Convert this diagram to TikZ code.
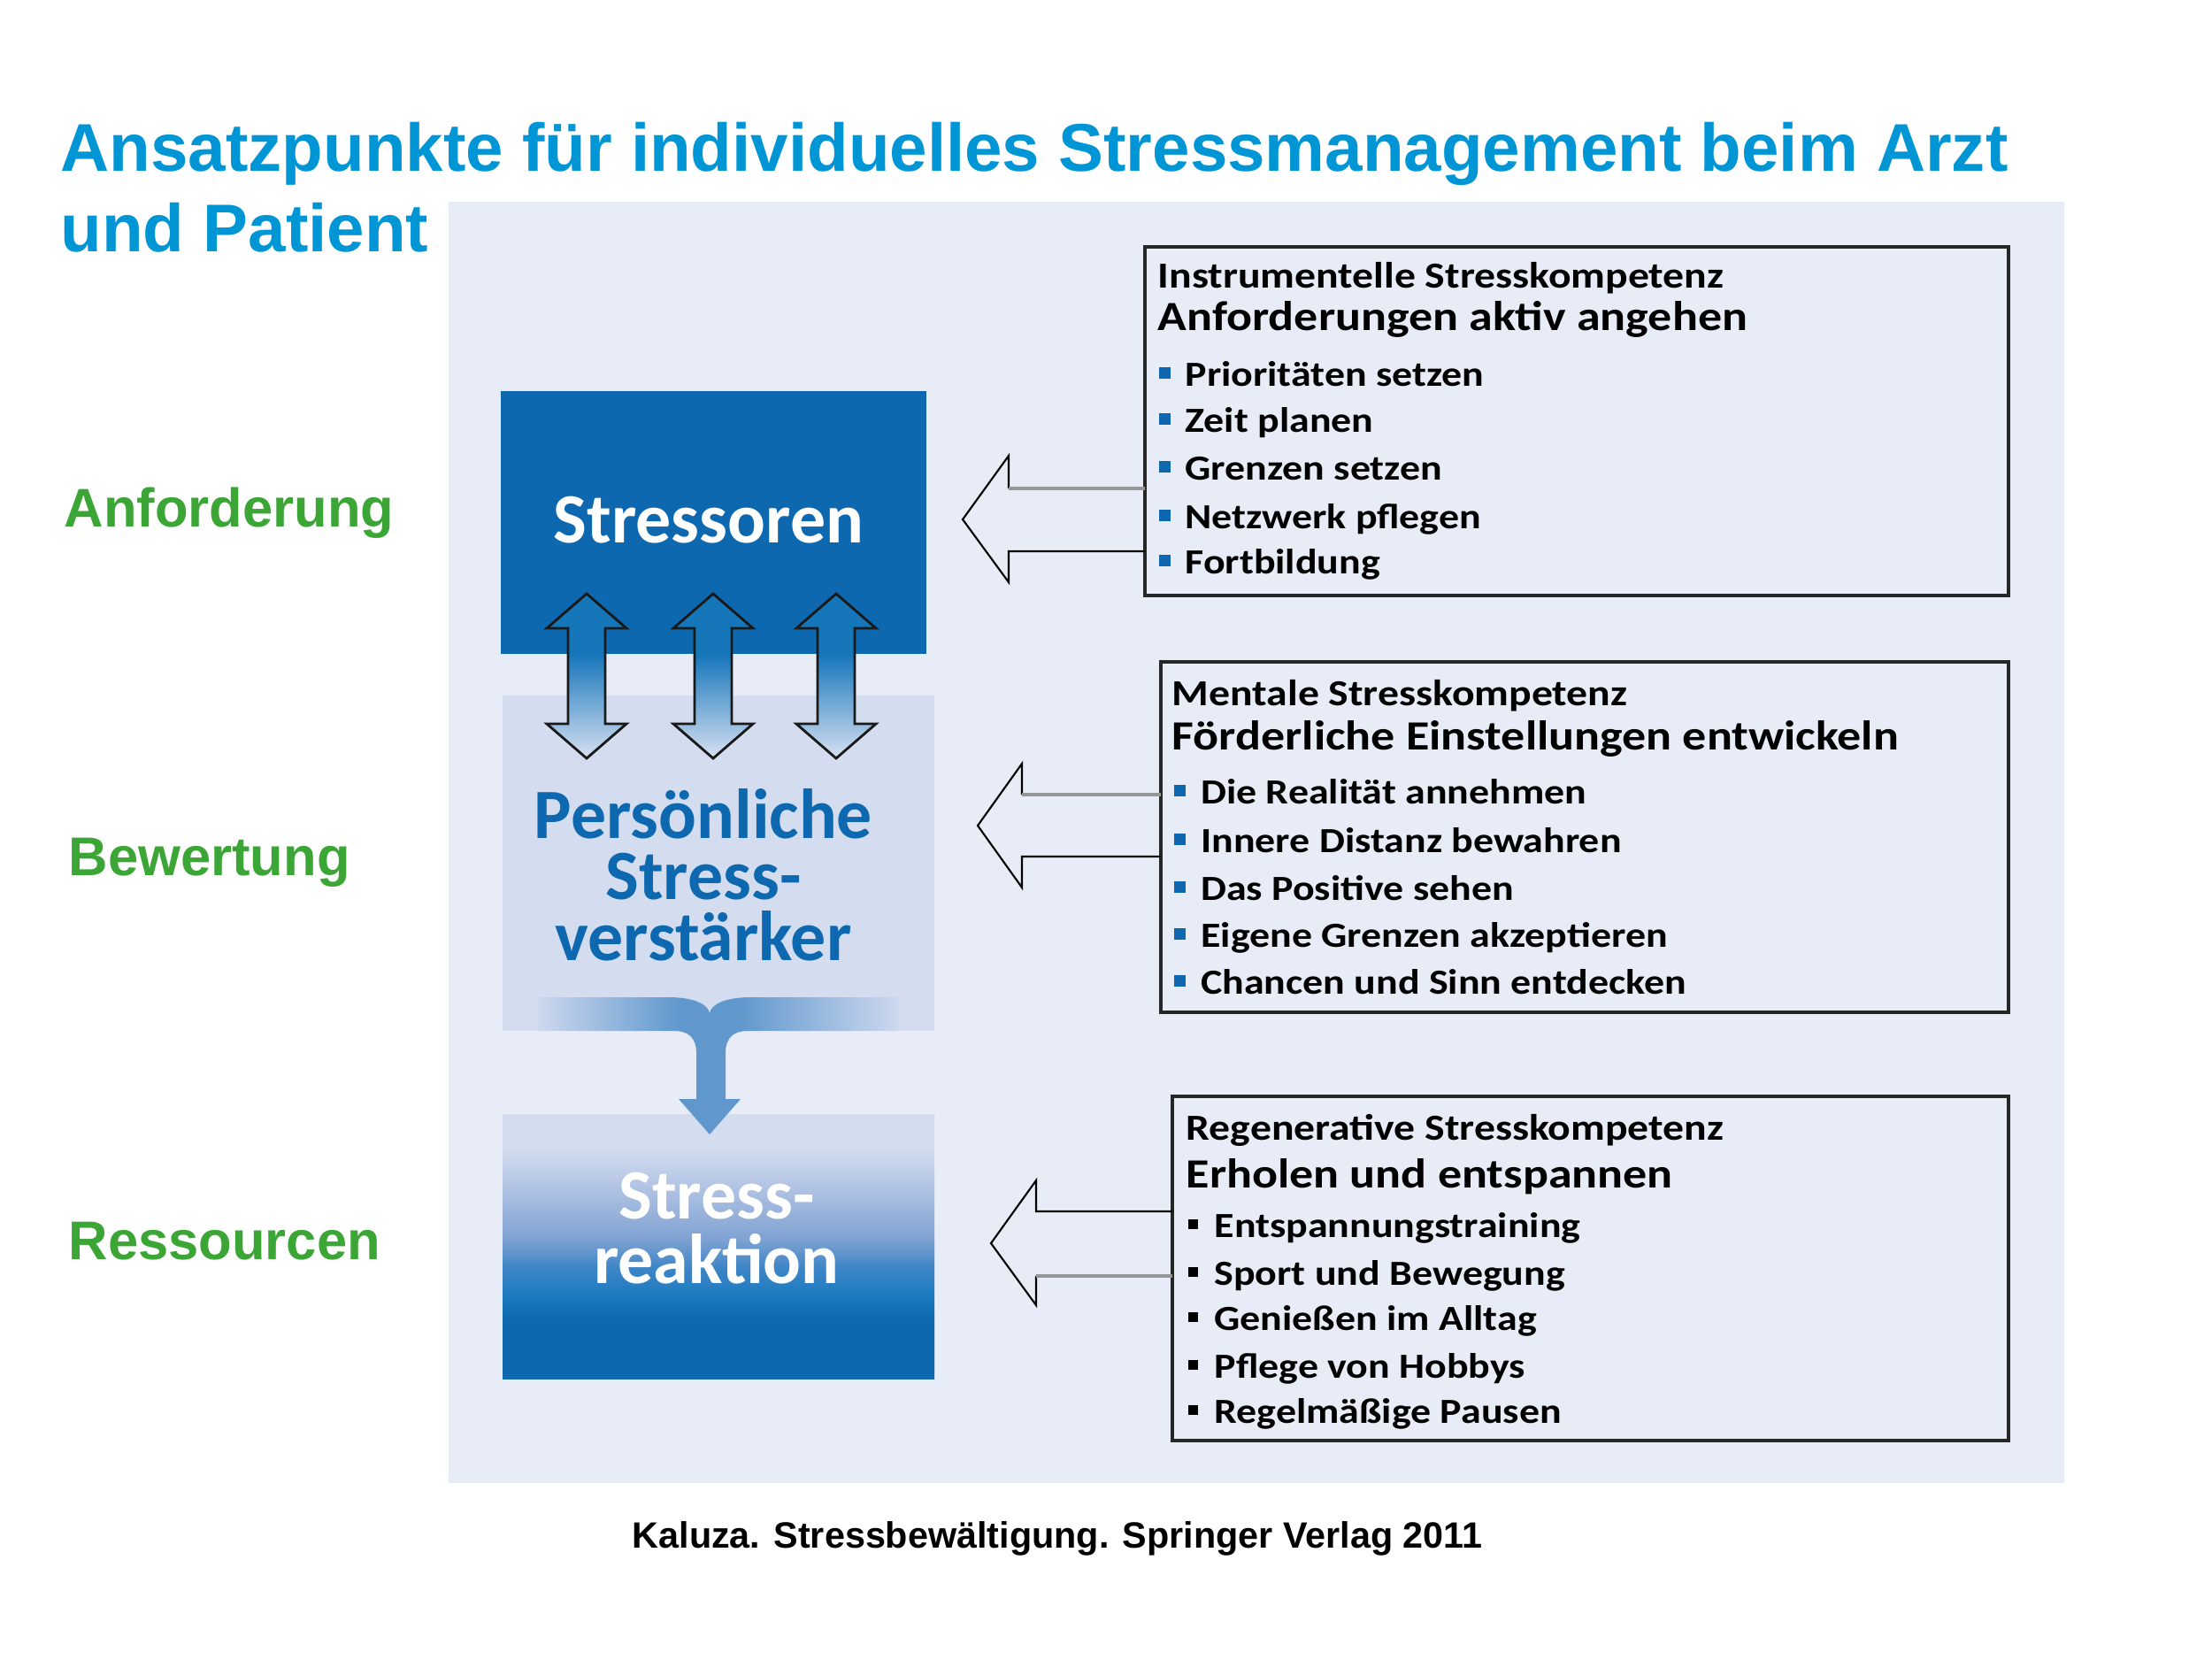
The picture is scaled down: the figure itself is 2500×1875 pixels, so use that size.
\documentclass[tikz,border=0pt]{standalone}
\usepackage{fontspec}
\setmainfont{Liberation Sans}
\newfontfamily\figfont{Carlito}
\newfontfamily\kfont[FakeStretch=1.15]{Carlito}

\definecolor{titleblue}{RGB}{0,150,214}
\definecolor{labelgreen}{RGB}{59,166,53}
\definecolor{panelbg}{RGB}{231,236,246}
\definecolor{darkblue}{RGB}{14,104,176}
\definecolor{lightbox}{RGB}{211,221,239}
\definecolor{arrowblue}{RGB}{22,118,186}
\definecolor{arrowlight}{RGB}{216,225,242}
\definecolor{mergeblue}{RGB}{96,152,205}
\definecolor{mergefade}{RGB}{205,216,238}
\definecolor{shaftgray}{RGB}{150,150,150}
\definecolor{rkone}{RGB}{26,122,191}
\definecolor{rktwo}{RGB}{61,133,198}
\definecolor{rkthree}{RGB}{127,162,210}
\definecolor{rkfour}{RGB}{184,200,230}

\pgfdeclareverticalshading{updown}{100bp}{color(0bp)=(arrowlight); color(25bp)=(arrowlight);
  color(56.5bp)=(arrowblue); color(100bp)=(arrowblue)}
\pgfdeclareverticalshading{reaktionshade}{100bp}{color(0bp)=(darkblue); color(36.4bp)=(darkblue);
  color(40.2bp)=(rkone); color(45.9bp)=(rktwo); color(51.4bp)=(rkthree); color(62.6bp)=(rkfour);
  color(68.6bp)=(lightbox); color(100bp)=(lightbox)}
\pgfdeclarehorizontalshading{mergeband}{100bp}{color(0bp)=(mergefade); color(25bp)=(mergefade);
  color(44.5bp)=(mergeblue); color(53bp)=(mergeblue); color(75bp)=(mergefade); color(100bp)=(mergefade)}

\newcommand{\kbul}[3]{\textcolor{#1}{\rule[#2]{#3}{#3}}}

\tikzset{
  ktitle/.style={anchor=base west, inner sep=0pt, font=\kfont\bfseries\fontsize{11.8}{14}\selectfont},
  khead/.style={anchor=base west, inner sep=0pt, font=\kfont\bfseries\fontsize{13.35}{16}\selectfont},
  kitem/.style={anchor=base west, inner sep=0pt, font=\kfont\bfseries\fontsize{11.35}{14}\selectfont},
  kbox/.style={draw=black!85, line width=0.9pt},
  blocklbl/.style={anchor=base, inner sep=0pt, align=center,
    font=\figfont\bfseries\fontsize{22.7}{19.6}\selectfont},
  sidelbl/.style={anchor=base west, inner sep=0pt, text=labelgreen,
    font=\bfseries\fontsize{17.5}{21}\selectfont},
  hollow/.style={draw=black, line width=0.6pt, line join=miter},
  hollowtop/.style={draw=shaftgray, line width=1.2pt},
  dblarrow/.style={draw=black!90, line width=0.8pt, shading=updown},
}

\begin{document}
\begin{tikzpicture}[x=0.01cm, y=-0.01cm]
    \useasboundingbox (0,0) rectangle (2500,1875);
    \fill[white] (0,0) rectangle (2500,1875);

    % Titel
    \node[anchor=base west, inner sep=0pt, text=titleblue, font=\bfseries\fontsize{21.7}{26}\selectfont]
      (title1) at (68,193) {Ansatzpunkte für individuelles Stressmanagement beim Arzt};
    \node[anchor=base west, inner sep=0pt, text=titleblue, font=\bfseries\fontsize{21.7}{26}\selectfont]
      (title2) at (68,284) {und Patient};

    % Hintergrund
    \fill[panelbg] (507,228) rectangle (2333,1676);

    % Ebenen links
    \node[sidelbl] (anf) at (72,595) {Anforderung};
    \node[sidelbl] (bew) at (77,989) {Bewertung};
    \node[sidelbl] (res) at (77,1423) {Ressourcen};

    % Bloecke
    \fill[darkblue] (566,442) rectangle (1047,739);
    \fill[lightbox] (568,786) rectangle (1056,1165);
    \shade[shading=reaktionshade] (568,1259) rectangle (1056,1558);

    \node[blocklbl, text=white] (stressoren) at (801,613) {Stressoren};
    \node[blocklbl, text=darkblue] (verstaerker) at (795,1085) {Persönliche\\Stress-\\verstärker};
    \node[blocklbl, text=white, font=\figfont\bfseries\fontsize{22.7}{20.7}\selectfont]
      (reaktion) at (810,1450) {Stress-\\reaktion};

    % Doppelpfeile
    \foreach \cx in {663,806,945}
      \draw[dblarrow] (\cx,671) -- ({\cx+45},710) -- ({\cx+21},710) -- ({\cx+21},818) -- ({\cx+45},818)
        -- (\cx,857) -- ({\cx-45},818) -- ({\cx-21},818) -- ({\cx-21},710) -- ({\cx-45},710) -- cycle;

    % Zusammenfuehrung
    \shade[shading=mergeband] (608,1127) -- (755,1127) .. controls (785,1127) and (800,1135) .. (802,1145)
      .. controls (804,1135) and (819,1127) .. (849,1127) -- (1015,1127) -- (1015,1165) -- (845,1165)
      .. controls (830,1165) and (820,1172) .. (820,1190) -- (820,1242) -- (837,1242) -- (802,1282)
      -- (767,1242) -- (787,1242) -- (787,1190) .. controls (787,1172) and (777,1165) .. (762,1165)
      -- (608,1165) -- cycle;

    % Instrumentelle Stresskompetenz
    \draw[kbox] (1294,279) rectangle (2270,673);
    \node[ktitle] (inst) at (1308,325) {Instrumentelle Stresskompetenz};
    \node[khead] (insthead) at (1308,373) {Anforderungen aktiv angehen};
    \node[kitem] (inst1) at (1309,436) {\kbul{darkblue}{2.3pt}{3.7pt}\hspace{4.8pt}Prioritäten setzen};
    \node[kitem] (inst2) at (1309,488) {\kbul{darkblue}{2.3pt}{3.7pt}\hspace{4.8pt}Zeit planen};
    \node[kitem] (inst3) at (1309,542) {\kbul{darkblue}{2.3pt}{3.7pt}\hspace{4.8pt}Grenzen setzen};
    \node[kitem] (inst4) at (1309,597) {\kbul{darkblue}{2.3pt}{3.7pt}\hspace{4.8pt}Netzwerk pflegen};
    \node[kitem] (inst5) at (1309,648) {\kbul{darkblue}{2.3pt}{3.7pt}\hspace{4.8pt}Fortbildung};

    % Mentale Stresskompetenz
    \draw[kbox] (1312,748) rectangle (2270,1144);
    \node[ktitle] (ment) at (1324,797) {Mentale Stresskompetenz};
    \node[khead] (menthead) at (1324,847) {Förderliche Einstellungen entwickeln};
    \node[kitem] (ment1) at (1326,908) {\kbul{darkblue}{2.3pt}{3.7pt}\hspace{5pt}Die Realität annehmen};
    \node[kitem] (ment2) at (1326,963) {\kbul{darkblue}{2.3pt}{3.7pt}\hspace{5pt}Innere Distanz bewahren};
    \node[kitem] (ment3) at (1326,1017) {\kbul{darkblue}{2.3pt}{3.7pt}\hspace{5pt}Das Positive sehen};
    \node[kitem] (ment4) at (1326,1070) {\kbul{darkblue}{2.3pt}{3.7pt}\hspace{5pt}Eigene Grenzen akzeptieren};
    \node[kitem] (ment5) at (1326,1123) {\kbul{darkblue}{2.3pt}{3.7pt}\hspace{5pt}Chancen und Sinn entdecken};

    % Regenerative Stresskompetenz
    \draw[kbox] (1325,1239) rectangle (2270,1628);
    \node[ktitle] (rege) at (1340,1288) {Regenerative Stresskompetenz};
    \node[khead] (regehead) at (1340,1342) {Erholen und entspannen};
    \node[kitem] (rege1) at (1342,1398) {\kbul{black}{2.5pt}{3.1pt}\hspace{5.4pt}Entspannungstraining};
    \node[kitem] (rege2) at (1342,1452) {\kbul{black}{2.5pt}{3.1pt}\hspace{5.4pt}Sport und Bewegung};
    \node[kitem] (rege3) at (1342,1503) {\kbul{black}{2.5pt}{3.1pt}\hspace{5.4pt}Genießen im Alltag};
    \node[kitem] (rege4) at (1342,1557) {\kbul{black}{2.5pt}{3.1pt}\hspace{5.4pt}Pflege von Hobbys};
    \node[kitem] (rege5) at (1342,1608) {\kbul{black}{2.5pt}{3.1pt}\hspace{5.4pt}Regelmäßige Pausen};

    % Hohlpfeile
    \draw[hollow] (1294,623) -- (1140,623) -- (1140,658) -- (1088,587) -- (1140,515) -- (1140,552);
    \draw[hollowtop] (1140,552) -- (1294,552);
    \draw[hollow] (1312,968) -- (1155,968) -- (1155,1003) -- (1105,933) -- (1155,863) -- (1155,898);
    \draw[hollowtop] (1155,898) -- (1312,898);
    \draw[hollow] (1325,1369) -- (1171,1369) -- (1171,1334) -- (1120,1405) -- (1171,1475) -- (1171,1442);
    \draw[hollowtop] (1171,1442) -- (1325,1442);

    % Quelle
    \node[anchor=base west, inner sep=0pt, font=\bfseries\fontsize{11.75}{14}\selectfont]
      (source) at (714,1749) {Kaluza. Stressbewältigung. Springer Verlag 2011};
\end{tikzpicture}
\end{document}
